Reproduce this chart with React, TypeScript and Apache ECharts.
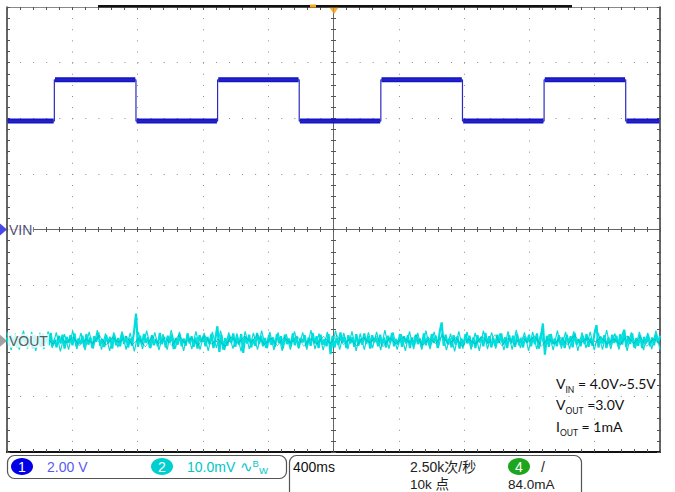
import { useEffect, useRef } from "react";
import * as echarts from "echarts";

// ---- scope settings ----
const TIME_MIN = -2; // s (400 ms/div, 10 div)
const TIME_MAX = 2;
const DIV_MIN = -4;
const DIV_MAX = 4;
const CH1_V_PER_DIV = 2;
const CH1_OFFSET_DIV = 0;
const CH2_MV_PER_DIV = 10;
const CH2_OFFSET_DIV = -2;

// ---- channel 1 (VIN) square wave ----
const VIN_EDGE_TIMES = [-1.71, -1.21, -0.71, -0.21, 0.29, 0.79, 1.29, 1.79]; // first edge rising
const VIN_LEVELS_V = [3.9, 5.38]; // low, high

// ---- channel 2 (VOUT) ripple, mV (AC) ----
const VOUT_NOISE_MV = [
  0.6, -0.9, 1.1, -0.4, 0.8, -1.2, 0.3, -0.7, 1.3, -0.5,
  0.9, -1.0, 0.4, -1.3, 1.0, -0.6, 0.7, -1.1, 1.2, -0.3,
  0.5, -0.8, 1.4, -0.9, 0.2, -1.2, 0.9, -0.5, 1.1, -1.4,
  0.7, -0.4, 1.0, -0.8, 1.3, -1.0, 0.4, -0.6, 0.9, -1.2,
  1.2, -0.7, 0.6, -1.3, 0.8, -0.2, 1.5, -0.9, 0.3, -1.1,
  1.0, -0.5, 0.7, -1.4, 1.1, -0.8, 0.5, -1.0, 1.3, -0.6,
  0.8, -1.2, 0.4, -0.9, 1.6, 4.9, -1.1, 0.9, -0.7, 1.2,
  -0.4, 0.6, -1.3, 1.0, -0.8, 0.3, -1.0, 1.4, -0.6, 0.7,
  -1.2, 0.9, -0.3, 1.1, -1.5, 0.5, -0.7, 1.2, -1.0, 0.4,
  -0.9, 1.3, -0.5, 0.8, -1.1, 0.6, -1.4, 1.0, -0.2, 0.9,
  -1.0, 0.7, -0.6, 1.2, -1.3, 0.4, 2.6, -2.0, 1.1, -1.6,
  0.5, -0.9, 1.0, -0.4, 1.3, -1.1, 0.6, -0.7, 1.2, -2.2,
  0.8, -0.5, 1.1, -1.2, 0.3, -0.9, 1.4, -0.6, 0.9, -1.0,
  0.5, -1.3, 1.0, -0.7, 0.6, -1.1, 1.2, -0.4, 0.8, -1.4,
  1.1, -0.6, 0.4, -1.0, 1.3, -0.8, 0.7, -1.2, 0.5, -0.3,
  1.0, -1.1, 0.6, -0.9, 1.4, -0.5, 0.8, -1.3, 1.1, -0.7,
  0.3, -1.0, 1.2, -2.4, 0.9, -1.2, 0.5, -0.8, 1.5, -0.4,
  0.7, -1.3, 1.0, -0.5, 0.6, -1.1, 1.2, -0.9, 0.4, -0.7,
  1.3, -0.6, 0.8, -1.4, 1.0, -0.3, 0.5, -1.0, 1.1, -0.8,
  0.6, -1.2, 0.9, -0.4, 1.4, -1.0, 0.3, -0.7, 1.2, -1.1,
  0.8, -0.5, 1.0, -1.3, 0.6, -0.9, 1.1, -0.6, 0.4, -1.2,
  1.3, -0.8, 0.7, -1.0, 1.2, -0.4, 0.9, -1.3, 1.6, 3.3,
  -0.9, 1.1, -0.6, 0.5, -1.2, 1.0, -0.7, 0.8, -1.4, 0.4,
  -0.8, 1.2, -0.5, 0.9, -1.1, 0.6, -1.3, 1.0, -0.3, 0.7,
  -1.0, 1.4, -0.6, 0.8, -1.2, 0.5, -0.9, 1.1, -0.4, 1.3,
  -0.7, 0.6, -1.3, 1.0, -0.5, 0.9, -1.1, 1.2, -0.8, 0.4,
  -1.2, 0.8, -0.4, 1.1, -1.0, 0.7, -0.6, 1.3, -1.4, 0.5,
  3.1, -2.5, 0.9, -1.1, 1.2, -0.6, 0.4, -1.0, 1.0, -0.8,
  0.6, -1.3, 1.1, -0.5, 0.8, -1.2, 1.4, -0.7, 0.3, -1.0,
  0.9, -0.6, 1.2, -1.1, 0.5, -0.9, 1.3, 2.8, -1.2, 0.7,
  -0.5, 1.0, -1.3, 0.6, -0.8, 1.1, -0.4, 0.9, -1.0, 1.2,
  -0.7, 2.0, -1.1, 0.8, -0.6, 1.3, -1.2, 0.5, -0.9, 1.0,
  -1.3, 0.7, -0.5, 1.1, -1.0, 0.6, -0.8, 1.2, -0.4, 0.9,
];
// outer envelope of the ripple band, mV
const VOUT_PEAK_MV = [
  1.5, -1.7, 1.3, -1.6, 1.8, -1.4, 1.6, -1.8, 1.4, -1.5,
  1.7, -1.3, 1.5, -1.9, 1.2, -1.6, 1.8, -1.5, 1.4, -1.7,
  1.6, -1.4, 1.9, -1.6, 1.3, -1.8, 1.5, -1.2, 1.7, -1.6,
  1.4, -1.9, 1.6, -1.5, 1.8, -1.3, 1.5, -1.7, 1.2, -1.6,
  1.9, -1.4, 1.6, -1.8, 1.3, -1.5, 1.7, -1.6, 1.4, -1.8,
  1.6, -1.3, 1.8, -1.7, 1.5, -1.4, 1.3, -1.9, 1.7, -1.5,
  1.4, -1.6, 1.8, -1.3, 1.6, -1.7, 1.5, -1.8, 1.2, -1.6,
  1.7, -1.4, 1.5, -1.6, 1.9, -1.5, 1.3, -1.7, 1.6, -1.4,
  1.8, -1.6, 1.4, -1.5, 1.7, -1.8, 1.3, -1.6, 1.5, -1.3,
  1.6, -1.7, 1.9, -1.4, 1.5, -1.6, 1.2, -1.8, 1.7, -1.5,
  1.4, -1.6, 1.8, -1.5, 1.6, -1.3, 1.5, -1.7, 1.3, -1.9,
  1.7, -1.4, 1.6, -1.6, 1.4, -1.8, 1.8, -1.5, 1.5, -1.4,
  1.3, -1.7, 1.7, -1.6, 1.9, -1.3, 1.5, -1.8, 1.6, -1.5,
  1.4, -1.6, 1.2, -1.7, 1.8, -1.4, 1.6, -1.5, 1.7, -1.8,
  1.5, -1.3, 1.6, -1.7, 1.4, -1.6, 1.9, -1.5, 1.3, -1.6,
  1.7, -1.8, 1.5, -1.4, 1.6, -1.7, 1.4, -1.5, 1.8, -1.6,
];
const VOUT_NOISE_DARK_MV = [
  0.4, -0.7, 0.9, -0.3, 0.6, -1.0, 0.5, -0.6, 0.8, -0.4,
  0.7, -0.9, 0.3, -0.5, 1.0, -0.8, 0.6, -0.3, 0.9, -0.7,
  0.4, -1.1, 0.8, -0.5, 0.6, -0.9, 1.0, -0.4, 0.5, -0.8,
  0.9, -0.6, 0.3, -1.0, 0.7, -0.5, 0.8, -0.3, 1.1, -0.7,
  0.5, -0.9, 0.6, -0.4, 0.9, -1.0, 0.4, -0.6, 0.8, -0.5,
  1.0, -0.7, 0.3, -0.9, 0.6, -0.4, 0.8, -1.1, 0.5, -0.6,
  0.7, -0.3, 1.0, -0.8, 0.4, -0.5, 0.9, -0.7, 0.6, -1.0,
  0.3, -0.6, 0.8, -0.4, 1.1, -0.9, 0.5, -0.7, 0.7, -0.3,
  0.9, -1.0, 0.4, -0.5, 0.6, -0.8, 1.0, -0.4, 0.5, -0.9,
  0.8, -0.6, 0.3, -0.7, 0.9, -0.5, 0.7, -1.0, 0.4, -0.6,
];

// ---- readouts ----
const CH1_LABEL = "VIN";
const CH2_LABEL = "VOUT";
const CH1_SCALE_TEXT = "2.00 V";
const CH2_SCALE_TEXT = "10.0mV";
const TIMEBASE_TEXT = "400ms";
const SAMPLE_RATE_TEXT = "2.50k次/秒";
const RECORD_TEXT = "10k 点";
const TRIGGER_LEVEL_TEXT = "84.0mA";
const NOTE_LINES = [
  ["V", "IN", " = 4.0V~5.5V"],
  ["V", "OUT", " =3.0V"],
  ["I", "OUT", " = 1mA"],
];

const ch1Div = (v: number) => CH1_OFFSET_DIV + v / CH1_V_PER_DIV;
const ch2Div = (mv: number) => CH2_OFFSET_DIV + mv / CH2_MV_PER_DIV;

function buildSquare() {
  const pts: any[] = [];
  let lvl = 0;
  pts.push([TIME_MIN, ch1Div(VIN_LEVELS_V[lvl])]);
  for (const t of VIN_EDGE_TIMES) {
    pts.push([t, ch1Div(VIN_LEVELS_V[lvl])]);
    lvl = 1 - lvl;
    pts.push([t, ch1Div(VIN_LEVELS_V[lvl])]);
  }
  pts.push([TIME_MAX, ch1Div(VIN_LEVELS_V[lvl])]);
  return pts;
}
function buildBand() {
  const pts: any[] = [];
  const bounds = [TIME_MIN, ...VIN_EDGE_TIMES, TIME_MAX];
  for (let i = 0; i < bounds.length - 1; i++) {
    const y = ch1Div(VIN_LEVELS_V[i % 2]);
    pts.push([bounds[i] + 0.004, y]);
    pts.push([bounds[i + 1] - 0.004, y]);
    pts.push([bounds[i + 1], "-"]);
  }
  return pts;
}
function buildNoise(arr: number[]) {
  const n = arr.length;
  return arr.map((mv, i) => [TIME_MIN + (i * (TIME_MAX - TIME_MIN)) / (n - 1), ch2Div(mv)]);
}

const FONT = "'Liberation Sans Narrow', 'Liberation Sans', 'Noto Sans CJK SC', sans-serif";

export default function App() {
  const ref = useRef<HTMLDivElement>(null);
  useEffect(() => {
    if (!ref.current) return;
    const chart = echarts.init(ref.current, undefined, { renderer: "svg" });
    const dotX = { color: "#8c8c8c", width: 1, type: [1, 10.125] as any };
    const dotY = { color: "#8c8c8c", width: 1, type: [1, 12.06] as any };
    const tick = (inside: boolean, len = 3) => ({
      show: true,
      inside,
      length: len,
      lineStyle: { color: "#555", width: 1 },
    });
    const hidden = { axisLabel: { show: false }, splitLine: { show: false } };
    const xBase = { type: "value", min: TIME_MIN, max: TIME_MAX, ...hidden };
    const yBase = { type: "value", min: DIV_MIN, max: DIV_MAX, ...hidden };

    const noteGraphics = NOTE_LINES.map((l, i) => ({
      type: "text",
      left: 556,
      top: 376 + i * 21.5,
      z: 30,
      style: {
        text: `{m|${l[0]}}{s|${l[1]}}{m|${l[2]}}`,
        rich: {
          m: { fontSize: 14, lineHeight: 18, fontFamily: "Lato, 'Liberation Sans', sans-serif", fill: "#111", verticalAlign: "top" },
          s: { fontSize: 8.5, lineHeight: 10, fontFamily: "Lato, 'Liberation Sans', sans-serif", fill: "#111", verticalAlign: "bottom" },
        },
      },
    }));

    const txt = (text: string, x: number, y: number, fill: string, size = 14, extra: any = {}) => ({
      type: "text",
      x,
      y,
      z: 30,
      style: { text, fill, fontSize: size, fontFamily: FONT, verticalAlign: "middle", align: "left", ...extra },
    });
    const pill = (cx: number, cy: number, fill: string, label: string) => ({
      type: "group",
      z: 30,
      children: [
        { type: "ellipse", shape: { cx, cy, rx: 11, ry: 8.5 }, style: { fill } },
        {
          type: "text",
          x: cx,
          y: cy + 0.5,
          style: { text: label, fill: "#fff", fontSize: 14, fontFamily: FONT, align: "center", verticalAlign: "middle" },
        },
      ],
    });

    chart.setOption({
      animation: false,
      backgroundColor: "#ffffff",
      grid: { left: 7, top: 7, width: 653, height: 445, containLabel: false },
      xAxis: [
        {
          ...xBase,
          interval: 0.4,
          position: "bottom",
          axisLine: { show: true, onZero: false, lineStyle: { color: "#111", width: 2 } },
          axisTick: { show: false },
          axisLabel: { show: false },
          splitLine: { show: true, lineStyle: dotX },
        },
        { ...xBase, interval: 0.08, position: "bottom", axisLine: { show: false, onZero: false }, axisTick: tick(true) },
        {
          ...xBase,
          interval: 0.08,
          position: "top",
          axisLine: { show: true, onZero: false, lineStyle: { color: "#888", width: 1 } },
          axisTick: tick(true),
        },
        {
          ...xBase,
          interval: 0.08,
          position: "bottom",
          axisLine: { show: true, onZero: true, onZeroAxisIndex: 0, lineStyle: { color: "#666", width: 1 } },
          axisTick: tick(true, 2.5),
        },
        {
          ...xBase,
          interval: 0.08,
          position: "bottom",
          axisLine: { show: false, onZero: true, onZeroAxisIndex: 0 },
          axisTick: tick(false, 2.5),
        },
      ],
      yAxis: [
        {
          ...yBase,
          interval: 1,
          position: "left",
          axisLine: { show: true, onZero: false, lineStyle: { color: "#333", width: 1.5 } },
          axisTick: { show: false },
          axisLabel: { show: false },
          splitLine: { show: true, lineStyle: dotY },
        },
        { ...yBase, interval: 0.2, position: "left", axisLine: { show: false, onZero: false }, axisTick: tick(true) },
        {
          ...yBase,
          interval: 0.2,
          position: "right",
          axisLine: { show: true, onZero: false, lineStyle: { color: "#333", width: 1.5 } },
          axisTick: tick(true),
        },
        {
          ...yBase,
          interval: 0.2,
          position: "left",
          axisLine: { show: true, onZero: true, onZeroAxisIndex: 0, lineStyle: { color: "#666", width: 1 } },
          axisTick: tick(true, 2.5),
        },
        {
          ...yBase,
          interval: 0.2,
          position: "left",
          axisLine: { show: false, onZero: true, onZeroAxisIndex: 0 },
          axisTick: tick(false, 2.5),
        },
      ],
      series: [
        {
          name: "VOUT envelope",
          type: "line",
          data: buildNoise(VOUT_PEAK_MV),
          symbol: "none",
          lineStyle: { color: "#10d8d8", width: 1.2 },
          z: 2,
        },
        {
          name: "VOUT",
          type: "line",
          data: buildNoise(VOUT_NOISE_MV),
          symbol: "none",
          lineStyle: { color: "#00dddd", width: 2.2 },
          z: 3,
        },
        {
          name: "VOUT dark",
          type: "line",
          data: buildNoise(VOUT_NOISE_DARK_MV),
          symbol: "none",
          lineStyle: { color: "#00a0a0", width: 1, opacity: 0.55 },
          z: 4,
        },
        {
          name: "VIN band",
          type: "line",
          data: buildBand(),
          symbol: "none",
          connectNulls: false,
          lineStyle: { color: "#1414c8", width: 5 },
          z: 5,
        },
        {
          name: "VIN",
          type: "line",
          data: buildSquare(),
          symbol: "none",
          lineStyle: { color: "#2a2ac0", width: 1.2 },
          z: 6,
        },
        {
          name: "markers",
          type: "scatter",
          clip: false,
          silent: true,
          z: 10,
          data: [
            {
              value: [TIME_MIN, CH1_OFFSET_DIV],
              symbol: "triangle",
              symbolSize: [12, 7],
              symbolRotate: -90,
              symbolOffset: [-3.5, 0],
              itemStyle: { color: "#1a1ae0" },
            },
            {
              value: [TIME_MIN, CH2_OFFSET_DIV],
              symbol: "triangle",
              symbolSize: [12, 7],
              symbolRotate: -90,
              symbolOffset: [-3.5, 0],
              itemStyle: { color: "#8a8a8a" },
            },
            {
              value: [0, DIV_MAX],
              symbol: "triangle",
              symbolSize: [10, 7],
              symbolRotate: 180,
              symbolOffset: [0.5, 3.5],
              itemStyle: { color: "#f39c12" },
            },
          ],
        },
        {
          name: "labels",
          type: "scatter",
          clip: false,
          silent: true,
          symbolSize: 0,
          z: 11,
          label: {
            show: true,
            position: "right",
            distance: 1,
            fontSize: 14,
            fontFamily: FONT,
            backgroundColor: "#fff",
            padding: [0, 1, 0, 1],
            formatter: (p: any) => p.name,
          },
          data: [
            { name: CH1_LABEL, value: [TIME_MIN, CH1_OFFSET_DIV], label: { color: "#1c1c50" } },
            { name: CH2_LABEL, value: [TIME_MIN, CH2_OFFSET_DIV], label: { color: "#333" } },
          ],
        },
      ],
      graphic: [
        { type: "rect", shape: { x: 98, y: 5, width: 474, height: 2.5 }, style: { fill: "#111" }, z: 20 },
        { type: "rect", shape: { x: 310, y: 4.5, width: 6, height: 3 }, style: { fill: "#f5a623" }, z: 21 },
        // channel readout box
        {
          type: "rect",
          shape: { x: 7.5, y: 455.5, width: 279, height: 23, r: 7 },
          style: { fill: "none", stroke: "#555", lineWidth: 1.2 },
        },
        pill(22, 466.5, "#0000e6", "1"),
        txt(CH1_SCALE_TEXT, 47, 467, "#5a5af2"),
        pill(162, 466.5, "#00cfcf", "2"),
        txt(CH2_SCALE_TEXT, 187, 467, "#00c6c6"),
        {
          type: "text",
          x: 240,
          y: 467,
          z: 30,
          style: {
            text: "{w|∿}{b|B}{v|W}",
            verticalAlign: "middle",
            rich: {
              w: { fontSize: 15, fill: "#00c6c6", fontFamily: "'DejaVu Sans', sans-serif", lineHeight: 16, verticalAlign: "middle" },
              b: { fontSize: 9.5, fill: "#00c6c6", fontFamily: FONT, lineHeight: 9, verticalAlign: "top" },
              v: { fontSize: 9.5, fill: "#00c6c6", fontFamily: FONT, lineHeight: 9, verticalAlign: "bottom" },
            },
          },
        },
        // timebase / trigger box
        {
          type: "rect",
          shape: { x: 289.5, y: 455.5, width: 292, height: 60, r: 7 },
          style: { fill: "none", stroke: "#555", lineWidth: 1.2 },
        },
        txt(TIMEBASE_TEXT, 293, 467, "#111"),
        txt(SAMPLE_RATE_TEXT, 410, 467, "#222"),
        txt(RECORD_TEXT, 410, 484, "#222", 13.5),
        pill(519, 466.5, "#1ea51e", "4"),
        txt("/", 541, 467, "#222"),
        txt(TRIGGER_LEVEL_TEXT, 508, 484, "#222", 13.5),
        ...noteGraphics,
      ],
    });
    return () => chart.dispose();
  }, []);
  return <div ref={ref} style={{ position: "absolute", left: 0, top: 0, width: 675, height: 492 }} />;
}
